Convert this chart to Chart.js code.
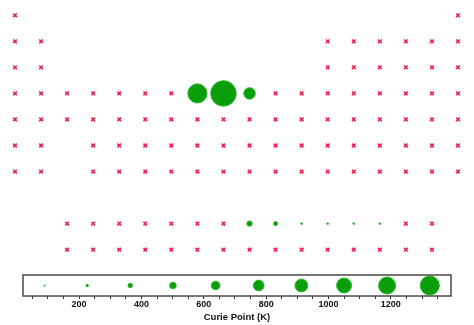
<!DOCTYPE html>
<html>
<head>
<meta charset="utf-8">
<script src="https://cdn.jsdelivr.net/npm/chart.js@4"></script>
<style>
  html, body { margin: 0; padding: 0; background: #fff; }
  body { width: 474px; height: 325px; position: relative; overflow: hidden; }
  canvas { position: absolute; left: 0; }
  #table { top: 0; }
  #scale { top: 262px; }
</style>
</head>
<body>
<canvas id="table" width="474" height="262"></canvas>
<canvas id="scale" width="474" height="63"></canvas>
<script>
// periodic table grid, one array per row ('' = empty cell)
const periods = [
  ['H','','','','','','','','','','','','','','','','','He'],
  ['Li','Be','','','','','','','','','','','B','C','N','O','F','Ne'],
  ['Na','Mg','','','','','','','','','','','Al','Si','P','S','Cl','Ar'],
  ['K','Ca','Sc','Ti','V','Cr','Mn','Fe','Co','Ni','Cu','Zn','Ga','Ge','As','Se','Br','Kr'],
  ['Rb','Sr','Y','Zr','Nb','Mo','Tc','Ru','Rh','Pd','Ag','Cd','In','Sn','Sb','Te','I','Xe'],
  ['Cs','Ba','','Hf','Ta','W','Re','Os','Ir','Pt','Au','Hg','Tl','Pb','Bi','Po','At','Rn'],
  ['Fr','Ra','','Rf','Db','Sg','Bh','Hs','Mt','Ds','Rg','Cn','Nh','Fl','Mc','Lv','Ts','Og'],
  [],
  ['','','La','Ce','Pr','Nd','Pm','Sm','Eu','Gd','Tb','Dy','Ho','Er','Tm','Yb','Lu'],
  ['','','Ac','Th','Pa','U','Np','Pu','Am','Cm','Bk','Cf','Es','Fm','Md','No','Lr']
];

// ferromagnetic elements and their Curie points (K)
const ferroSymbols = ['Fe', 'Co', 'Ni', 'Gd', 'Tb', 'Dy', 'Ho', 'Er', 'Tm'];
const curiePoints = [1043, 1388, 627, 292, 219, 88, 20, 32, 25];

// size key along the bottom
const keyValues = [89, 226, 364, 501, 638, 776, 913, 1050, 1188, 1325];
const keyMin = 20;
const keyMax = 1393;
const tickLabels = [200, 400, 600, 800, 1000, 1200];

const GREEN = '#0a9f0a';
const GREEN_EDGE = '#2fb82f';
const RED = '#e6234f';

const plain = [];
const ferro = [];
periods.forEach((row, r) => {
  row.forEach((sym, c) => {
    if (!sym) return;
    const i = ferroSymbols.indexOf(sym);
    if (i < 0) plain.push({x: c + 1, y: r + 1});
    else ferro.push({x: c + 1, y: r + 1, t: curiePoints[i]});
  });
});

const tableSize = t => Math.max(0.9, 0.0092 * t);
const keySize = t => Math.max(0.6, 0.0076 * t - 0.5);

new Chart(document.getElementById('table'), {
  type: 'scatter',
  data: {
    datasets: [{
      data: ferro,
      pointRadius: ferro.map(p => tableSize(p.t)),
      backgroundColor: GREEN,
      borderColor: GREEN_EDGE,
      borderWidth: 1
    }, {
      data: plain,
      pointStyle: 'crossRot',
      pointRadius: 2.6,
      borderColor: RED,
      borderWidth: 1.6
    }]
  },
  options: {
    responsive: false,
    animation: false,
    events: [],
    layout: { padding: 0, autoPadding: false },
    plugins: { legend: { display: false }, tooltip: { enabled: false } },
    scales: {
      x: { type: 'linear', display: false, min: 0.4244, max: 18.614 },
      y: { type: 'linear', display: false, reverse: true, min: 0.4124, max: 10.474 }
    }
  }
});

const boxFrame = {
  id: 'boxFrame',
  afterDraw(chart) {
    const {ctx, chartArea: a} = chart;
    ctx.save();
    ctx.strokeStyle = '#4a4a4a';
    ctx.lineWidth = 1.5;
    ctx.strokeRect(a.left, a.top, a.right - a.left, a.bottom - a.top);
    ctx.restore();
  }
};

new Chart(document.getElementById('scale'), {
  type: 'scatter',
  data: {
    datasets: [{
      data: keyValues.map(v => ({x: v, y: 0.5})),
      pointRadius: keyValues.map(keySize),
      backgroundColor: GREEN,
      borderColor: GREEN_EDGE,
      borderWidth: 1
    }]
  },
  options: {
    responsive: false,
    animation: false,
    events: [],
    layout: { padding: { left: 23, right: 23, top: 13, bottom: 0 }, autoPadding: false },
    plugins: { legend: { display: false }, tooltip: { enabled: false } },
    scales: {
      x: {
        type: 'linear',
        min: keyMin,
        max: keyMax,
        afterFit: s => { s.height = 29; },
        border: { display: false },
        grid: { drawOnChartArea: false, drawTicks: true, tickLength: 3, color: '#333', lineWidth: 1 },
        ticks: {
          stepSize: 50,
          includeBounds: false,
          autoSkip: false,
          maxRotation: 0,
          padding: 0,
          color: '#111',
          font: { family: 'Liberation Sans', weight: 'bold', size: 9 },
          callback: v => tickLabels.includes(v) ? String(v) : ''
        },
        title: {
          display: true,
          text: 'Curie Point (K)',
          color: '#111',
          font: { family: 'Liberation Sans', weight: 'bold', size: 9.5 },
          padding: { top: 0, bottom: 2.3 }
        }
      },
      y: { type: 'linear', display: false, min: 0, max: 1 }
    }
  },
  plugins: [boxFrame]
});
</script>
</body>
</html>
